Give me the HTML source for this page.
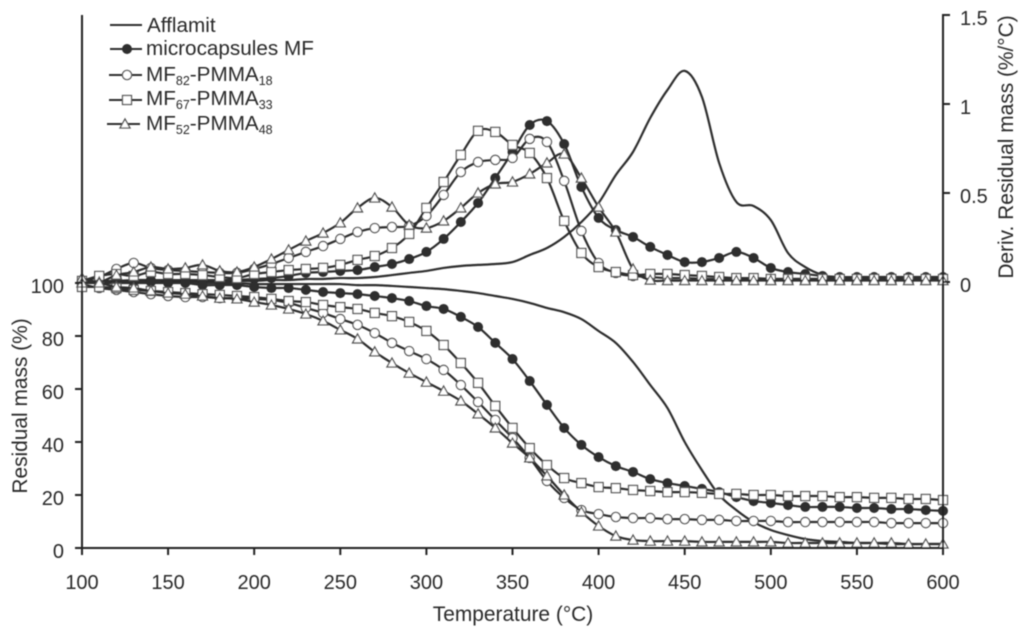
<!DOCTYPE html>
<html lang="en">
<head>
<meta charset="utf-8">
<title>Residual mass and derivative versus temperature</title>
<style>
html,body{margin:0;padding:0;background:#fff;}
svg{display:block;}
text{font-family:"Liberation Sans",Arial,sans-serif;fill:#2a2a2a;font-size:20px;}
.title{font-size:20.9px;}
.leg{font-size:20.7px;}
.sub{font-size:12.5px;}
</style>
</head>
<body>
<svg id="chart" xmlns="http://www.w3.org/2000/svg" width="1024" height="636" viewBox="0 0 1024 636">
<defs><filter id="soft" x="-5%" y="-5%" width="110%" height="110%"><feGaussianBlur stdDeviation="0.5"/></filter></defs>
<rect width="1024" height="636" fill="#fff"/>
<g id="root" filter="url(#soft)">
<g id="marks"></g>
<g id="axes"></g>
<text class="title" x="513" y="621" text-anchor="middle">Temperature (°C)</text>
<text class="title" transform="translate(27,406) rotate(-90)" text-anchor="middle">Residual mass (%)</text>
<text class="title" transform="translate(1013,147) rotate(-90)" text-anchor="middle">Deriv. Residual mass (%/°C)</text>
<g>
<g>
<line x1="110" y1="25" x2="142" y2="25" stroke="#2d2d2d" stroke-width="2"/>
<text class="leg" x="147" y="32">Afflamit</text></g>
<g>
<line x1="110" y1="49" x2="142" y2="49" stroke="#2d2d2d" stroke-width="2"/>
<circle cx="127" cy="49" r="5" fill="#2d2d2d"/>
<text class="leg" x="146" y="55">microcapsules MF</text></g>
<g>
<line x1="109" y1="75" x2="142" y2="75" stroke="#2d2d2d" stroke-width="2"/>
<circle cx="127" cy="75" r="4.6" fill="#fff" stroke="#555" stroke-width="1.3"/>
<text class="leg" x="146" y="81">MF<tspan class="sub" dy="4">82</tspan><tspan dy="-4">-PMMA</tspan><tspan class="sub" dy="4">18</tspan></text></g>
<g>
<line x1="109" y1="100" x2="142" y2="100" stroke="#2d2d2d" stroke-width="2"/>
<rect x="122.5" y="95.5" width="9" height="9" fill="#fff" stroke="#555" stroke-width="1.3"/>
<text class="leg" x="146" y="105">MF<tspan class="sub" dy="4">67</tspan><tspan dy="-4">-PMMA</tspan><tspan class="sub" dy="4">33</tspan></text></g>
<g>
<line x1="107" y1="124" x2="140" y2="124" stroke="#2d2d2d" stroke-width="2"/>
<polygon points="125,119 130,128 120,128" fill="#fff" stroke="#555" stroke-width="1.3"/>
<text class="leg" x="146" y="130">MF<tspan class="sub" dy="4">52</tspan><tspan dy="-4">-PMMA</tspan><tspan class="sub" dy="4">48</tspan></text></g>
</g>
</g>
</svg>
<script>
// Temperature categories (°C), one point every 10 degrees from 100 to 600
const temperatures = [100,110,120,130,140,150,160,170,180,190,200,210,220,230,240,250,260,270,280,290,300,310,320,330,340,350,360,370,380,390,400,410,420,430,440,450,460,470,480,490,500,510,520,530,540,550,560,570,580,590,600];

// Residual mass (%)
const massAfflamit = [100,100,100,100,100,100,100,100,100,100,99.6,99.6,99.6,99.6,99.6,99.6,99.2,99.2,98.9,98.5,98.1,97.7,97,96.2,95.1,94,92.5,90.6,89,86.4,81.9,77.4,70.2,61.5,52.8,40,29.4,20,14.3,9.8,6.8,4.9,3.4,2.6,2.3,1.9,1.9,1.5,1.5,1.5,1.5];
const massMF = [100.4,100.4,100.4,100.4,100.4,100,100,99.2,99.2,99.2,98.5,98.1,98.1,97.4,96.6,96.2,95.8,95.1,94.3,93.2,91.3,90.2,87.2,83.4,77.4,71.3,63,54,45.3,38.9,34.3,30.9,28.7,26,24.5,23.4,22.3,21.1,19.2,17.7,17,16.2,15.5,15.5,15.5,15.1,15.1,14.7,14.7,14.3,14];
const massMF82 = [99.6,98.1,97.4,96.6,95.8,95.1,94.7,94.7,94.3,94.3,94,93.6,92.5,90.6,88.7,86.4,84.2,81.1,77.4,74.3,71.3,67.2,61.5,55.1,48.3,41.5,34,25.3,18.9,14.3,12.8,11.7,11.3,11.3,10.9,10.9,10.6,10.6,10.2,10.2,10.2,9.8,9.8,9.8,9.8,9.8,9.8,9.4,9.4,9.4,9.4];
const massMF67 = [98.5,98.5,98.1,97.4,97,96.6,96.2,95.8,95.5,95.1,94.7,94,93.2,92.8,91.7,90.9,90.2,88.7,87.5,85.3,81.9,76.6,69.8,62.3,53.6,45.3,37.7,31.3,26.4,24.5,23,22.6,21.9,21.5,21.1,21.1,20.8,20.4,20.4,20,20,19.6,19.6,19.6,19.2,19.2,18.9,18.9,18.5,18.5,18.1];
const massMF52 = [100,100,98.5,98.1,97,96.2,95.8,95.1,94.3,94,92.8,91.7,90.2,88.3,85.7,82.3,78.9,74,69.8,66,62.6,59.2,55.5,50.6,45.3,39.6,34,27.2,20,13.6,8.3,4.5,3,2.6,2.6,2.6,2.3,2.3,2.3,2.3,2.3,1.9,1.9,1.9,1.9,1.9,1.9,1.9,1.5,1.5,1.5];

// Derivative of residual mass (%/°C)
const derivAfflamit = [0,0,0,0,0,0,0,0,0,0.006,0.006,0.011,0.011,0.017,0.017,0.022,0.022,0.028,0.039,0.051,0.062,0.079,0.09,0.096,0.101,0.112,0.152,0.191,0.253,0.337,0.444,0.601,0.731,0.922,1.079,1.186,1.04,0.669,0.45,0.427,0.348,0.163,0.084,0.039,0.017,0.017,0.017,0.017,0.017,0.017,0.017];
const derivMF = [0,0.006,0.006,0.011,0.011,0.011,0.011,0.011,0.011,0.011,0.017,0.022,0.034,0.051,0.056,0.062,0.067,0.084,0.101,0.129,0.169,0.242,0.337,0.444,0.584,0.73,0.882,0.904,0.775,0.534,0.36,0.292,0.253,0.197,0.152,0.112,0.112,0.135,0.169,0.135,0.079,0.056,0.045,0.034,0.028,0.028,0.028,0.028,0.028,0.028,0.028];
const derivMF82 = [0.006,0.028,0.073,0.107,0.079,0.067,0.062,0.056,0.051,0.051,0.073,0.101,0.135,0.169,0.202,0.242,0.281,0.303,0.309,0.315,0.371,0.489,0.618,0.674,0.686,0.697,0.804,0.787,0.568,0.287,0.107,0.051,0.034,0.028,0.022,0.022,0.017,0.017,0.017,0.017,0.017,0.017,0.017,0.017,0.017,0.017,0.017,0.017,0.017,0.017,0.017];
const derivMF67 = [0.006,0.034,0.045,0.034,0.056,0.045,0.045,0.039,0.028,0.022,0.045,0.056,0.067,0.073,0.079,0.096,0.124,0.146,0.191,0.27,0.416,0.562,0.714,0.849,0.843,0.77,0.725,0.584,0.343,0.163,0.084,0.056,0.039,0.045,0.045,0.039,0.034,0.028,0.022,0.022,0.017,0.017,0.017,0.017,0.017,0.017,0.017,0.017,0.017,0.017,0.017];
const derivMF52 = [0.022,0,0.039,0.056,0.084,0.073,0.079,0.096,0.062,0.056,0.084,0.129,0.18,0.23,0.275,0.332,0.416,0.472,0.421,0.32,0.303,0.343,0.416,0.5,0.551,0.562,0.607,0.669,0.719,0.584,0.421,0.281,0.073,0.011,0.008,0.008,0.008,0.008,0.008,0.008,0.008,0.008,0.008,0.008,0.008,0.008,0.008,0.008,0.008,0.008,0.008];

// Tick labels
const xTicks = [100,150,200,250,300,350,400,450,500,550,600];
const leftTicks = [0,20,40,60,80,100];
const rightTicks = [0,0.5,1,1.5];

const NS = 'http://www.w3.org/2000/svg';
const INK = '#222';
const LINE = '#2d2d2d';
const EDGE = '#555';

function xPos(t){ return 82 + (t - 100) * 861 / 500; }
function yLeft(m){ return 548 - m * 2.65; }
function yRight(d){ return 282 - d * 178; }

function make(tag, parent){
  const el = document.createElementNS(NS, tag);
  parent.appendChild(el);
  return el;
}

function smoothPath(pts){
  let d = 'M' + pts[0][0].toFixed(2) + ' ' + pts[0][1].toFixed(2);
  for (let i = 0; i < pts.length - 1; i++){
    const p0 = pts[Math.max(i - 1, 0)], p1 = pts[i], p2 = pts[i + 1], p3 = pts[Math.min(i + 2, pts.length - 1)];
    const c1x = p1[0] + (p2[0] - p0[0]) / 6, c1y = p1[1] + (p2[1] - p0[1]) / 6;
    const c2x = p2[0] - (p3[0] - p1[0]) / 6, c2y = p2[1] - (p3[1] - p1[1]) / 6;
    d += 'C' + c1x.toFixed(2) + ' ' + c1y.toFixed(2) + ' ' + c2x.toFixed(2) + ' ' + c2y.toFixed(2) + ' ' + p2[0].toFixed(2) + ' ' + p2[1].toFixed(2);
  }
  return d;
}

function drawMarker(kind, cx, cy, parent){
  let m = null;
  if (kind === 'filled'){
    m = make('circle', parent);
    m.setAttribute('cx', cx); m.setAttribute('cy', cy); m.setAttribute('r', 5);
    m.setAttribute('fill', LINE);
  } else if (kind === 'circle'){
    m = make('circle', parent);
    m.setAttribute('cx', cx); m.setAttribute('cy', cy); m.setAttribute('r', 4.6);
    m.setAttribute('fill', '#fff'); m.setAttribute('stroke', EDGE); m.setAttribute('stroke-width', 1.3);
  } else if (kind === 'square'){
    m = make('rect', parent);
    m.setAttribute('x', cx - 4.5); m.setAttribute('y', cy - 4.5); m.setAttribute('width', 9); m.setAttribute('height', 9);
    m.setAttribute('fill', '#fff'); m.setAttribute('stroke', EDGE); m.setAttribute('stroke-width', 1.3);
  } else if (kind === 'triangle'){
    m = make('polygon', parent);
    m.setAttribute('points', cx + ',' + (cy - 5) + ' ' + (cx + 5) + ',' + (cy + 4) + ' ' + (cx - 5) + ',' + (cy + 4));
    m.setAttribute('fill', '#fff'); m.setAttribute('stroke', EDGE); m.setAttribute('stroke-width', 1.3);
  }
  if (m){
    
    
  }
}

function drawSeries(label, values, yFn, kind, parent){
  const g = make('g', parent);
  
  
  const pts = values.map((v, i) => [xPos(temperatures[i]), yFn(v)]);
  const path = make('path', g);
  
  
  path.setAttribute('d', smoothPath(pts));
  path.setAttribute('fill', 'none');
  path.setAttribute('stroke', LINE);
  path.setAttribute('stroke-width', 2.2);
  pts.forEach(p => drawMarker(kind, p[0], p[1], g));
}

const marks = document.getElementById('marks');
drawSeries('deriv-afflamit', derivAfflamit, yRight, 'none', marks);
drawSeries('mass-afflamit', massAfflamit, yLeft, 'none', marks);
drawSeries('deriv-microcapsules-mf', derivMF, yRight, 'filled', marks);
drawSeries('mass-microcapsules-mf', massMF, yLeft, 'filled', marks);
drawSeries('deriv-mf82-pmma18', derivMF82, yRight, 'circle', marks);
drawSeries('mass-mf82-pmma18', massMF82, yLeft, 'circle', marks);
drawSeries('deriv-mf67-pmma33', derivMF67, yRight, 'square', marks);
drawSeries('mass-mf67-pmma33', massMF67, yLeft, 'square', marks);
drawSeries('deriv-mf52-pmma48', derivMF52, yRight, 'triangle', marks);
drawSeries('mass-mf52-pmma48', massMF52, yLeft, 'triangle', marks);

const axes = document.getElementById('axes');

function axisLine(name, x1, y1, x2, y2){
  const l = make('line', axes);
  
  
  l.setAttribute('x1', x1); l.setAttribute('y1', y1); l.setAttribute('x2', x2); l.setAttribute('y2', y2);
  l.setAttribute('stroke', INK);
  l.setAttribute('stroke-width', 2);
}

function tickLabel(name, x, y, anchor, str){
  const t = make('text', axes);
  
  
  t.setAttribute('x', x); t.setAttribute('y', y); t.setAttribute('text-anchor', anchor);
  t.textContent = str;
}

axisLine('x-axis-line', 75, 548, 943, 548);
axisLine('left-y-axis-line', 82, 15, 82, 555);
axisLine('right-y-axis-line', 943, 14, 943, 555);

xTicks.forEach(v => {
  axisLine('x-tick', xPos(v), 548, xPos(v), 555);
  tickLabel('x-tick-label', xPos(v), 589, 'middle', String(v));
});
leftTicks.forEach(v => {
  axisLine('left-y-tick', 75, yLeft(v), 82, yLeft(v));
  tickLabel('left-y-tick-label', 64, yLeft(v) + 10, 'end', String(v));
});
rightTicks.forEach(v => {
  axisLine('right-y-tick', 943, yRight(v), 950, yRight(v));
  tickLabel('right-y-tick-label', 960, yRight(v) + 10, 'start', String(v));
});
</script>
</body>
</html>
